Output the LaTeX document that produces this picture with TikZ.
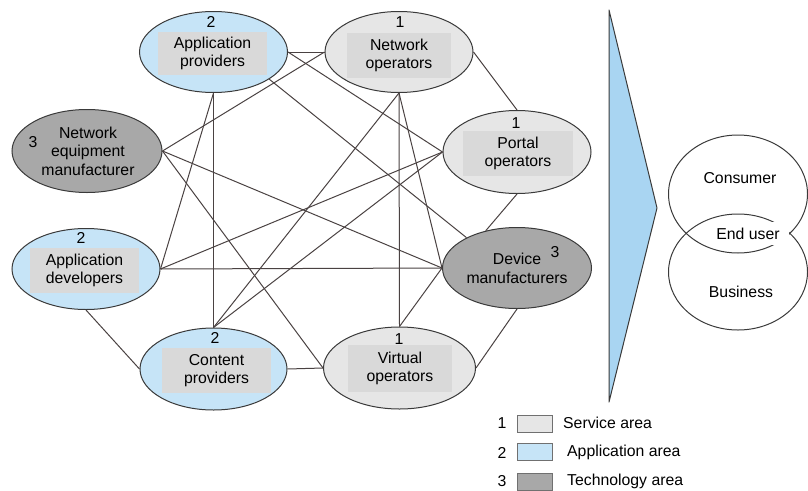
\documentclass[tikz,border=0pt]{standalone}
\usepackage{fontspec}
\setmainfont{Liberation Sans}
\usetikzlibrary{shapes.geometric}
\definecolor{svc}{HTML}{E6E6E6}
\definecolor{svcbox}{HTML}{D9D9D9}
\definecolor{app}{HTML}{C6E4F7}
\definecolor{tech}{HTML}{A8A8A8}
\definecolor{wedgeblue}{HTML}{A9D5F2}
\definecolor{edgec}{HTML}{4A4242}
\definecolor{rim}{HTML}{3A3A3A}
\definecolor{legrim}{HTML}{707070}
\begin{document}
\begin{tikzpicture}[x=1pt,y=-1pt,
  font=\fontsize{15.8}{18.5}\selectfont,
  area/.style={ellipse, draw=rim, line width=1pt, minimum width=148pt, minimum height=81pt, inner sep=0pt},
  svcarea/.style={area, fill=svc},
  apparea/.style={area, fill=app},
  techarea/.style={area, fill=tech},
  tbox/.style={fill=svcbox, align=center, inner sep=0pt},
  num/.style={inner sep=0pt},
  link/.style={draw=edgec, line width=1pt},
  enduser/.style={ellipse, draw=rim, line width=1pt, minimum width=139pt, inner sep=0pt},
  wbox/.style={fill=white, inner sep=0pt},
  legbox/.style={draw=legrim, line width=1pt, minimum width=35pt, minimum height=17pt, inner sep=0pt},
  legtext/.style={anchor=west, inner sep=0pt}
]
\useasboundingbox (0,0) rectangle (808,490);

% area ellipses
\node[apparea]  (AP)  at (213.5,52)  {};
\node[svcarea]  (NO)  at (399,52)  {};
\node[techarea, minimum width=150pt, minimum height=83pt] (NEM) at (87,151) {};
\node[svcarea, minimum height=83pt]  (PO)  at (517,152) {};
\node[apparea]  (AD)  at (86,269)  {};
\node[techarea, minimum width=149pt] (DM)  at (517,268) {};
\node[apparea, minimum width=147pt, minimum height=82pt]  (CP)  at (213.5,369) {};
\node[svcarea, minimum width=152pt, minimum height=82pt]  (VO)  at (399.5,368) {};

% text boxes
\node[tbox, minimum width=109pt, minimum height=43pt] (APt) at (212.5,53.5) {Application\\providers};
\node[tbox, minimum width=104pt, minimum height=45pt] (NOt) at (399,55.5) {Network\\operators};
\node[tbox, fill=none] (NEMt) at (88,151) {Network\\equipment\\manufacturer};
\node[tbox, minimum width=110pt, minimum height=45pt] (POt) at (518,153.5) {Portal\\operators};
\node[tbox, minimum width=109pt, minimum height=45pt] (ADt) at (84.5,270.5) {Application\\developers};
\node[tbox, fill=none] (DMt) at (517,268.5) {Device\\manufacturers};
\node[tbox, minimum width=109pt, minimum height=45pt] (CPt) at (216.5,370.5) {Content\\providers};
\node[tbox, minimum width=104pt, minimum height=47pt] (VOt) at (400,368.5) {Virtual\\operators};

% numbers
\node[num] (APn)  at (211,22)  {2};
\node[num] (NOn)  at (400,22)  {1};
\node[num] (NEMn) at (33,142)  {3};
\node[num] (POn)  at (516,123) {1};
\node[num] (ADn)  at (81,238)  {2};
\node[num] (DMn)  at (555,252) {3};
\node[num] (CPn)  at (215,338) {2};
\node[num] (VOn)  at (399,339) {1};

% connectors
\path[link] (AP.east) -- (NO.west);
\path[link] (AP.south) -- (AD.east);
\path[link] (AP.south) -- (CP.north);
\path[link] (AP.east) -- (PO.west);
\path[link] (AP.-26) -- (DM.149);
\path[link] (NEM.east) -- (NO.west);
\path[link] (NEM.east) -- (DM.west);
\path[link] (NEM.east) -- (VO.west);
\path[link] (AD.east) -- (PO.west);
\path[link] (AD.east) -- (DM.west);
\path[link] (AD.south) -- (CP.west);
\path[link] (CP.north) -- (NO.south);
\path[link] (CP.north) -- (PO.west);
\path[link] (CP.east) -- (VO.west);
\path[link] (NO.south) -- (VO.north);
\path[link] (NO.east) -- (PO.north);
\path[link] (NO.south) -- (DM.west);
\path[link] (PO.south) -- (DM.130);
\path[link] (DM.south) -- (VO.east);
\path[link] (VO.north) -- (DM.west);

% wedge
\filldraw[fill=wedgeblue, draw=rim, line width=1pt, line join=round] (609,10) -- (657,208) -- (609,402) -- cycle;

% end user
\node[enduser, minimum height=118pt] (CONS) at (738,194) {};
\node[enduser, minimum height=116pt] (BUS)  at (738,272) {};
\node[wbox, minimum width=91pt, minimum height=27pt] (CONSt) at (740,178.5) {Consumer};
\node[wbox, minimum width=81pt, minimum height=23pt] (EU)    at (748,233.5) {End user};
\node[wbox, minimum width=91pt, minimum height=27pt] (BUSt)  at (741,291.5) {Business};

% legend
\node[num] (L1n) at (502,423) {1};
\node[legbox, fill=svc] (L1b) at (534.5,423.5) {};
\node[legtext] (L1t) at (563,423) {Service area};
\node[num] (L2n) at (502,453) {2};
\node[legbox, fill=app] (L2b) at (534.5,452) {};
\node[legtext] (L2t) at (567,452) {Application area};
\node[num] (L3n) at (502,481.5) {3};
\node[legbox, fill=tech] (L3b) at (534.5,482) {};
\node[legtext] (L3t) at (567,481) {Technology area};
\end{tikzpicture}
\end{document}
